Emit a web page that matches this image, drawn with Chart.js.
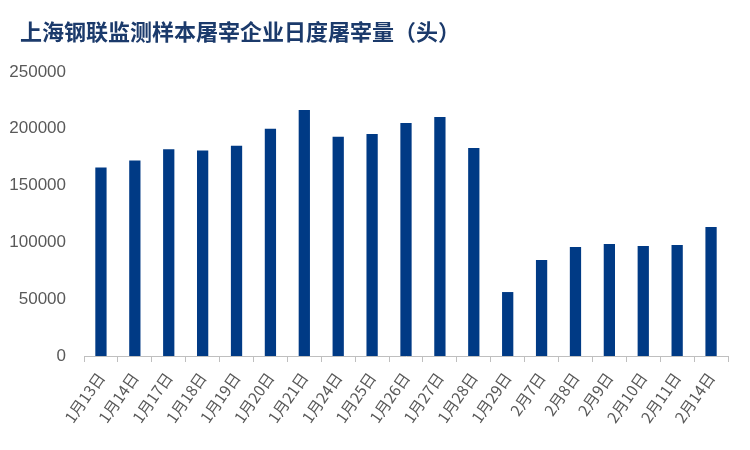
<!DOCTYPE html>
<html>
<head>
<meta charset="utf-8">
<script src="https://cdn.jsdelivr.net/npm/chart.js@4"></script>
<style>
  html, body { margin: 0; padding: 0; background: #fff; }
  #wrap { width: 750px; height: 450px; }
</style>
</head>
<body>
<div id="wrap"><canvas id="c" width="750" height="450"></canvas></div>
<script>
// 日度屠宰量（头）
const chartTitle = '上海钢联监测样本屠宰企业日度屠宰量（头）';
const categories = ['1月13日','1月14日','1月17日','1月18日','1月19日','1月20日','1月21日','1月24日','1月25日','1月26日','1月27日','1月28日','1月29日','2月7日','2月8日','2月9日','2月10日','2月11日','2月14日'];
const slaughter = [166000, 172000, 182000, 181000, 185000, 200000, 216500, 193000, 195500, 205000, 210300, 183000, 56300, 84500, 96000, 98500, 96800, 97700, 113500];
const yTicks = [0, 50000, 100000, 150000, 200000, 250000];

// title drawn at a fixed left offset, independent of the axis box
const titlePlugin = {
    id: 'leftTitle',
    afterDraw(chart) {
        const ctx = chart.ctx;
        ctx.save();
        ctx.font = 'bold 22px "Noto Sans CJK SC"';
        ctx.fillStyle = '#1b3a6b';
        ctx.textBaseline = 'middle';
        ctx.textAlign = 'left';
        ctx.fillText(chartTitle, 20, 32);
        ctx.restore();
    }
};

new Chart(document.getElementById('c'), {
    type: 'bar',
    data: {
        labels: categories,
        datasets: [{
            data: slaughter,
            backgroundColor: '#003a85',
            categoryPercentage: 0.95,
            barPercentage: 0.35
        }]
    },
    options: {
        responsive: false,
        animation: false,
        devicePixelRatio: 1,
        layout: { padding: { left: 10, right: 22, top: 72, bottom: 0 } },
        plugins: {
            legend: { display: false },
            tooltip: { enabled: false },
            title: { display: false }
        },
        scales: {
            x: {
                afterFit: ax => { ax.height = 94; },
                grid: { display: true, drawOnChartArea: false, color: '#bfbfbf', tickLength: 6, offset: true },
                border: { display: true, color: '#bfbfbf' },
                ticks: {
                    color: '#595959',
                    font: { family: '"Noto Sans CJK SC"', size: 15.5 },
                    maxRotation: 55, minRotation: 55,
                    padding: 7
                }
            },
            y: {
                min: 0, max: 250000,
                afterBuildTicks: ax => { ax.ticks = yTicks.map(v => ({ value: v })); },
                afterFit: ax => { ax.width = 74; },
                grid: { display: false },
                border: { display: false },
                ticks: {
                    color: '#595959',
                    font: { family: 'Arial, "Liberation Sans"', size: 17 },
                    padding: 10,
                    callback: v => String(v)
                }
            }
        }
    },
    plugins: [titlePlugin]
});
</script>
</body>
</html>
